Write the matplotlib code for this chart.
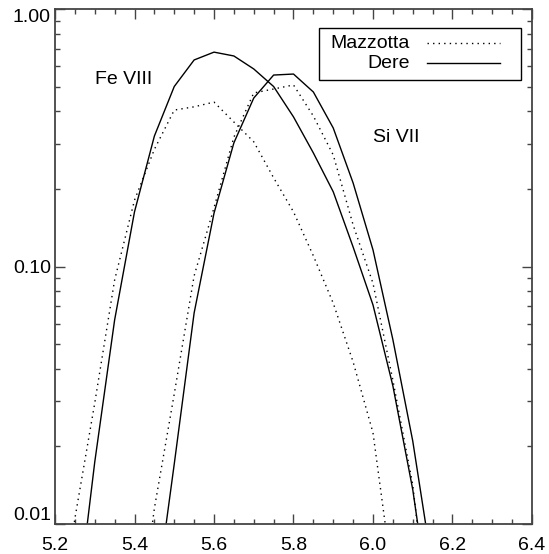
import matplotlib
matplotlib.use("Agg")
import matplotlib.pyplot as plt
from matplotlib.ticker import FixedLocator, FixedFormatter, LogLocator, NullFormatter, MultipleLocator

plt.rcParams['font.family'] = ['Liberation Sans', 'DejaVu Sans']

# log T grid (0.05 steps)
logt = [5.20, 5.25, 5.30, 5.35, 5.40, 5.45, 5.50, 5.55, 5.60, 5.65, 5.70,
        5.75, 5.80, 5.85, 5.90, 5.95, 6.00, 6.05, 6.10, 6.15, 6.20]

fe8_dere = [0.0008, 0.004, 0.0174, 0.062, 0.163, 0.321, 0.50, 0.634, 0.68, 0.657, 0.585,
            0.50, 0.381, 0.276, 0.195, 0.119, 0.0709, 0.0344, 0.0136, 0.004, 0.001]
fe8_mazz = [0.003, 0.0105, 0.0295, 0.0886, 0.181, 0.285, 0.405, 0.417, 0.435, 0.364, 0.305,
            0.221, 0.163, 0.110, 0.072, 0.0426, 0.0226, 0.006, 0.0015, 0.0004, 0.0001]
si7_dere = [0.00001, 0.0001, 0.0004, 0.0012, 0.0015, 0.0046, 0.0171, 0.066, 0.161, 0.302, 0.451,
            0.554, 0.559, 0.476, 0.345, 0.211, 0.116, 0.052, 0.021, 0.0067, 0.002]
si7_mazz = [0.00001, 0.0001, 0.0004, 0.001, 0.003, 0.0115, 0.032, 0.092, 0.169, 0.318, 0.472,
            0.489, 0.507, 0.384, 0.271, 0.145, 0.086, 0.0362, 0.0142, 0.003, 0.0008]

FS = 14

fig = plt.figure(figsize=(5.49, 5.54), dpi=100)
ax = fig.add_axes([55 / 549, 1 - 524 / 554, 477 / 549, 515 / 554])

dot = (0, (1, 3))
ax.plot(logt, fe8_mazz, color='black', lw=1, linestyle=dot)
ax.plot(logt, fe8_dere, color='black', lw=1)
ax.plot(logt, si7_mazz, color='black', lw=1, linestyle=dot)
ax.plot(logt, si7_dere, color='black', lw=1)

ax.set_yscale('log')
ax.set_xlim(5.2, 6.4)
ax.set_ylim(0.01, 1.0)

ax.xaxis.set_major_locator(MultipleLocator(0.2))
ax.xaxis.set_minor_locator(MultipleLocator(0.05))
ax.xaxis.set_major_formatter(plt.FormatStrFormatter('%.1f'))
ax.yaxis.set_major_locator(FixedLocator([0.01, 0.1, 1.0]))
ax.yaxis.set_major_formatter(FixedFormatter(['0.01', '0.10', '1.00']))
ax.yaxis.set_minor_locator(LogLocator(base=10, subs=range(2, 10)))
ax.yaxis.set_minor_formatter(NullFormatter())

ax.tick_params(which='both', direction='in', top=True, right=True, labelsize=FS,
               color='#444444', width=1)
ax.tick_params(which='major', length=7)
ax.tick_params(which='minor', length=3.6)
ax.tick_params(axis='x', pad=9)
ax.tick_params(axis='y', pad=3)
for s in ax.spines.values():
    s.set_color('#444444')
    s.set_linewidth(1.3)

# IDL-style label placement on the y axis
ylabels = ax.get_yticklabels()
ylabels[0].set_va('bottom')
ylabels[2].set_va('top')

ax.text(5.30, 0.53, 'Fe VIII', fontsize=FS, va='center', ha='left')
ax.text(6.00, 0.318, 'Si VII', fontsize=FS, va='center', ha='left')

# legend box
box = plt.Rectangle((264 / 477, 1 - 71 / 515), 202 / 477, 52 / 515, transform=ax.transAxes,
                    fill=False, edgecolor='black', lw=1)
ax.add_patch(box)
tx = (410 - 55) / 477
ax.text(tx, 1 - 34 / 515, 'Mazzotta', transform=ax.transAxes, ha='right', va='center', fontsize=FS)
ax.text(tx, 1 - 54 / 515, 'Dere', transform=ax.transAxes, ha='right', va='center', fontsize=FS)
lx = [(427 - 55) / 477, (500 - 55) / 477]
ax.plot(lx, [1 - 34 / 515] * 2, transform=ax.transAxes, color='black', lw=1, linestyle=dot)
ax.plot(lx, [1 - 54 / 515] * 2, transform=ax.transAxes, color='black', lw=1)

fig.savefig('out.png', dpi=100)
